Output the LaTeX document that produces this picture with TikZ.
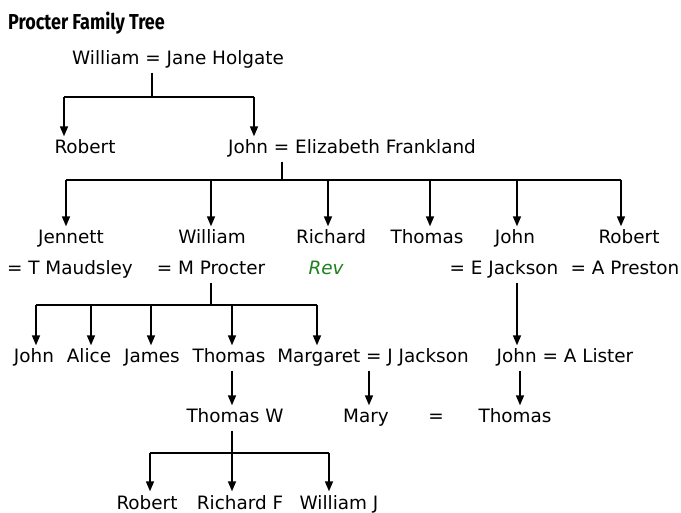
\documentclass[tikz,border=0pt]{standalone}
\usepackage{fontspec}
\usetikzlibrary{arrows.meta}
\newfontfamily\treefont{DejaVu Sans}
\newfontfamily\titlefont{Fira Sans}
\definecolor{revgreen}{RGB}{30,128,30}
\tikzset{
  person/.style={font=\treefont\fontsize{18.4}{21}\selectfont, inner xsep=0pt, inner ysep=4pt, text height=13.5pt, text depth=3.5pt, anchor=center},
  ln/.style={line width=1.6pt},
  arr/.style={line width=1.6pt, -{Triangle[width=8pt,length=10pt]}},
}
\begin{document}
\begin{tikzpicture}[x=1pt,y=-1pt]
\useasboundingbox (0,0) rectangle (681,513);
\node[anchor=west, inner sep=0pt, font=\titlefont\bfseries\fontsize{18}{21}\selectfont, yscale=1.2] (title) at (8,23) {Procter Family Tree};
% generation 1
\node[person] (wjh) at (178,60) {William = Jane Holgate};
% generation 2
\node[person] (rob1) at (85,149) {Robert};
\node[person] (jef) at (352,149) {John = Elizabeth Frankland};
% generation 3
\node[person] (jen) at (71,239) {Jennett};
\node[person] (jenS) at (70,270) {= T Maudsley};
\node[person] (wil) at (212,239) {William};
\node[person] (wilS) at (211,270) {= M Procter};
\node[person] (ric) at (331,239) {Richard};
\node[person, text=revgreen, font=\treefont\itshape\fontsize{18.4}{21}\selectfont] (rev) at (326,270) {Rev};
\node[person] (tho) at (427,239) {Thomas};
\node[person] (joh) at (515,239) {John};
\node[person] (johS) at (504,270) {= E Jackson};
\node[person] (rob2) at (629,239) {Robert};
\node[person] (rob2S) at (625,270) {= A Preston};
% generation 4
\node[person] (john2) at (34,358) {John};
\node[person] (alice) at (89,358) {Alice};
\node[person] (james) at (152,358) {James};
\node[person] (thomas2) at (229,358) {Thomas};
\node[person] (marg) at (373,358) {Margaret = J Jackson};
\node[person] (jal) at (565,358) {John = A Lister};
% generation 5
\node[person] (thw) at (235,418) {Thomas W};
\node[person] (mary) at (366,418) {Mary};
\node[person] (eq) at (436,418) {=};
\node[person] (thomas3) at (515,418) {Thomas};
% generation 6
\node[person] (robert3) at (147,504) {Robert};
\node[person] (richf) at (240,504) {Richard F};
\node[person] (willj) at (339,504) {William J};
% junction coordinates
\coordinate (b1) at (152,97);
\coordinate (b1l) at (64,97);
\coordinate (b1r) at (254,97);
\coordinate (b2) at (282,180);
\coordinate (b2a) at (66,180);
\coordinate (b2b) at (211,180);
\coordinate (b2c) at (328,180);
\coordinate (b2d) at (430,180);
\coordinate (b2e) at (517,180);
\coordinate (b2f) at (621,180);
\coordinate (b3) at (211,305);
\coordinate (b3a) at (36,305);
\coordinate (b3b) at (91,305);
\coordinate (b3c) at (151,305);
\coordinate (b3d) at (232,305);
\coordinate (b3e) at (317,305);
\coordinate (c1) at (517,0);
\coordinate (c2) at (232,0);
\coordinate (c3) at (369,0);
\coordinate (c4) at (520,0);
\coordinate (b4) at (232,453);
\coordinate (b4a) at (150,453);
\coordinate (b4c) at (329,453);
% connectors
\draw[ln] (wjh.south -| b1) -- (b1);
\draw[ln] (b1l) -- (b1r);
\draw[arr] (b1l) -- (b1l |- rob1.north);
\draw[arr] (b1r) -- (b1r |- jef.north);
\draw[ln] (jef.south -| b2) -- (b2);
\draw[ln] (b2a) -- (b2f);
\draw[arr] (b2a) -- (b2a |- jen.north);
\draw[arr] (b2b) -- (b2b |- wil.north);
\draw[arr] (b2c) -- (b2c |- ric.north);
\draw[arr] (b2d) -- (b2d |- tho.north);
\draw[arr] (b2e) -- (b2e |- joh.north);
\draw[arr] (b2f) -- (b2f |- rob2.north);
\draw[ln] (wilS.south -| b3) -- (b3);
\draw[ln] (b3a) -- (b3e);
\draw[arr] (b3a) -- (b3a |- john2.north);
\draw[arr] (b3b) -- (b3b |- alice.north);
\draw[arr] (b3c) -- (b3c |- james.north);
\draw[arr] (b3d) -- (b3d |- thomas2.north);
\draw[arr] (b3e) -- (b3e |- marg.north);
\draw[arr] (johS.south -| c1) -- (c1 |- jal.north);
\draw[arr] (thomas2.south -| c2) -- (c2 |- thw.north);
\draw[arr] (marg.south -| c3) -- (c3 |- mary.north);
\draw[arr] (jal.south -| c4) -- (c4 |- thomas3.north);
\draw[arr] (thw.south -| b4) -- (b4 |- richf.north);
\draw[ln] (b4a) -- (b4c);
\draw[arr] (b4a) -- (b4a |- robert3.north);
\draw[arr] (b4c) -- (b4c |- willj.north);
\end{tikzpicture}
\end{document}
